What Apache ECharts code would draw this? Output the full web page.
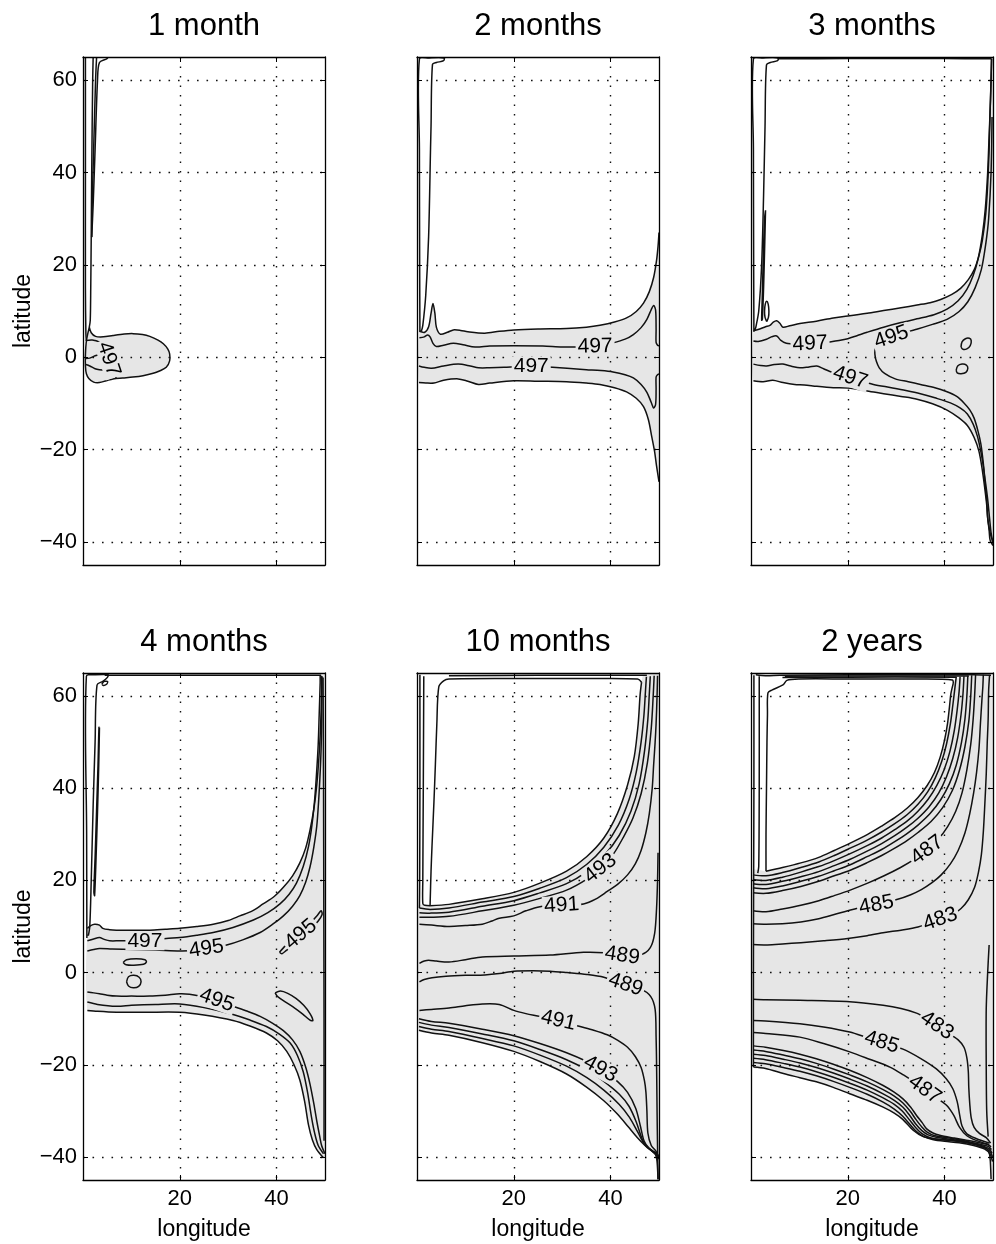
<!DOCTYPE html>
<html>
<head>
<meta charset="utf-8">
<script src="https://cdn.jsdelivr.net/npm/echarts@6/dist/echarts.min.js"></script>
<style>
html,body{margin:0;padding:0;background:#fff;}
#chart{width:996px;height:1244px;}
</style>
</head>
<body>
<div id="chart"></div>
<script>
// ---- panel titles and axes ----
const panelTitles = ['1 month', '2 months', '3 months', '4 months', '10 months', '2 years'];
const lonTicks = [20, 40];
const latTicks = [-40, -20, 0, 20, 40, 60];
const lonRange = [0, 50];
const latRange = [-45, 65];

// ---- 1 month: contour polylines [lon, lat] ----
const m1Bulge = [[1.3,6.5],[1.7,5.3],[2.6,4.5],[4.2,4.4],[6.2,4.7],[8.5,5.0],[10.3,5.1],[12.3,4.9],[13.8,4.5],[15.5,3.7],[16.6,2.9],[17.5,1.8],[17.9,0.7],[17.9,-0.8],[17.2,-2.2],[15.8,-3.0],[14.5,-3.5],[12.4,-4.0],[10.3,-4.3],[8.2,-4.5],[6.2,-4.7],[4.8,-5.1],[3.4,-5.5],[2.2,-5.4],[1.2,-4.6],[0.7,-3.6],[0.5,-1.9],[0.5,0.5],[0.7,3.5],[1.3,6.5]];
const m1West = [[2.1,65],[2.0,60],[1.8,40],[1.7,26],[1.6,15],[1.5,8],[1.3,6.5]];
const m1Edge = [[0.5,65],[0.5,40],[0.5,15],[0.6,5],[0.7,3.5]];
const m1Hook = [[5.2,65],[4.9,64.6],[3.4,63.8],[3.0,60],[2.5,45],[2.1,33],[1.8,26]];
const m1HookIn = [[2.8,64.8],[2.6,60],[2.2,45],[1.9,33],[1.8,26]];
const m1Inner497 = [[0.6,3.6],[1.9,3.7],[3.3,3.3],[4.3,2.2],[5.0,0.5],[5.6,-1.4],[6.3,-3.2],[6.9,-4.7]];
const m1InnerA = [[0.5,-0.3],[1.4,-0.2],[2.5,0.3],[3.5,0.6]];
const m1InnerB = [[0.6,-1.6],[1.4,-1.9],[2.5,-2.5],[3.4,-2.7],[4.8,-2.8]];
const m1Labels = [[5.3,-0.4,'497']];

// ---- 2 months ----
const m2WestLoop = [[0.6,5.5],[0.55,20],[0.5,45],[0.5,64.6],[2.5,64.8],[5.6,64.8],[5.5,64.2],[4.0,63.8],[3.2,63.4],[2.9,50],[2.8,45.4],[2.4,26.1],[1.8,13.3],[1.2,6.9],[0.9,5.6]];
const m2NorthOuter = [[0.5,5.6],[1.6,5.4],[2.4,6.6],[2.9,9.5],[3.3,11.6],[3.7,9.5],[4.0,6.5],[4.8,5.0],[6.3,5.4],[7.5,5.9],[9,5.8],[10.5,5.5],[14,5.2],[17,5.6],[20,5.9],[25,6.1],[30.9,6.2],[35,6.5],[37.8,6.9],[40.8,7.6],[43.3,8.5],[45.3,9.9],[46.8,11.7],[48,14.2],[48.9,17.3],[49.5,21],[49.8,24],[50,27]];
const m2North497 = [[0.5,4.2],[1.5,4.4],[2.2,4.8],[2.7,4.4],[3.3,3.0],[4.0,2.3],[5.5,2.6],[7.5,3.0],[9.5,2.7],[12,2.2],[15,2.4],[20,2.5],[26,2.4],[30,2.2],[33,2.2],[37,2.3],[40.5,3.1],[43,3.9],[44.7,4.9],[46.3,6.4],[47.5,8.2],[48.4,10.3],[48.9,11.2],[49.3,10.2],[49.4,6],[49.4,3.2],[49.7,2.6],[50,2.5]];
const m2South497 = [[0.4,-1.9],[1.5,-2.2],[3,-2.4],[5.5,-1.9],[8.5,-1.5],[11,-1.9],[12.7,-2.3],[15,-2.3],[18,-2.2],[21,-2.0],[23.6,-2.0],[26,-2.1],[28,-2.2],[31,-2.4],[35,-2.7],[38,-2.9],[40.5,-3.2],[43,-3.8],[44.7,-4.5],[46.3,-5.9],[47.5,-7.6],[48.4,-9.8],[48.9,-11],[49.3,-10.2],[49.4,-7],[49.4,-4.3],[49.7,-3.8],[50,-3.6]];
const m2SouthOuter = [[0.4,-5.5],[1.8,-5.6],[3.5,-5.6],[5.5,-5.0],[8.5,-4.7],[10.5,-5.2],[12.7,-5.9],[15,-5.6],[20,-5.1],[25,-5.2],[30.9,-5.3],[35,-5.6],[37.8,-5.9],[40.8,-6.6],[43.3,-7.5],[45.3,-8.9],[46.8,-10.7],[47.8,-13.5],[48.5,-17.2],[49.1,-20.5],[49.5,-23.6],[50,-27]];
const m2Labels = [[36.8,2.3,'497'],[23.6,-2.0,'497']];

// ---- 3 months ----
const m3WestLoop = [[0.6,5.5],[0.55,20],[0.5,45],[0.5,64.6],[2.5,64.8],[5.6,64.8],[5.5,64.2],[4.0,63.8],[3.2,63.3],[2.9,50],[2.6,35],[2.2,20],[1.6,10],[1.0,6.5],[0.8,5.8]];
const m3Sliver = [[3.0,31.8],[2.85,25],[2.6,15],[2.35,8.2],[2.2,8],[2.3,12],[2.55,22],[2.8,30],[3.0,31.8]];
const m3Eddy = [[3.25,7.7],[3.6,8.6],[3.7,10],[3.55,11.5],[3.25,12.1],[2.95,11.5],[2.8,10],[2.9,8.6],[3.25,7.7]];
const m3Top = [[5.5,64.6],[20,64.65],[40,64.65],[49.7,64.6]];
const m3NorthOuter = [[0.5,5.7],[1.8,6.1],[3.0,6.6],[3.9,6.9],[4.6,7.6],[5.3,7.9],[6.0,7.3],[6.6,6.5],[8.0,6.8],[10.1,7.3],[13.5,7.8],[17,8.5],[20,8.9],[24,9.5],[27.4,10.1],[31,10.7],[34.3,11.3],[37,11.8],[39.2,12.5],[41.5,13.6],[43.3,14.9],[44.9,16.8],[46.1,18.9],[47.1,22],[47.8,25.3],[48.5,31],[48.9,37.4],[49.2,45],[49.4,53.4],[49.6,60],[49.7,64.6]];
const m3North497 = [[0.5,3.5],[1.5,3.4],[3.2,3.9],[4.2,4.4],[5.3,4.6],[6.1,3.7],[7.3,3.0],[8.5,2.9],[10,2.8],[12,2.9],[14,3.0],[16.3,3.3],[18.2,3.6],[20,4.0],[22,4.7],[24,5.4],[27.4,6.5],[31,7.5],[34.3,8.3],[37.8,9.2],[40.5,10.4],[42.8,12.2],[44.6,14.7],[45.9,17.7],[46.9,21.2],[47.8,26.5],[48.4,32],[48.9,40],[49.2,48],[49.5,56],[49.7,64.6]];
const m3C495 = [[49.8,52],[49.6,40],[49.1,30],[48.5,24.5],[47.6,19],[46.3,15],[44.8,12],[43,9.9],[40.5,8.2],[37.5,7.1],[34,6.0],[31,5.1],[28.5,4.2],[26.6,3.1],[25.7,1.8],[25.6,0.6],[25.9,-0.9],[26.5,-2.3],[27.6,-3.5],[29.8,-4.7],[32.5,-5.3],[35,-5.9],[38,-6.6],[40.5,-7.5],[42.5,-8.5],[44,-9.9],[45.2,-11.4],[46.1,-13.2],[46.9,-16],[47.5,-18.8],[48.0,-23],[48.3,-26.8],[48.7,-31],[48.9,-34.8],[49.3,-37.5],[49.6,-38.8],[50,-40]];
const m3South497 = [[0.5,-1.5],[2,-1.8],[3.2,-1.9],[4.8,-1.6],[6.6,-1.5],[8.5,-2.0],[10.1,-2.3],[12,-2.1],[13.6,-1.9],[15,-2.5],[16.3,-3.1],[18.5,-3.7],[20.5,-4.4],[22.5,-5.1],[25.3,-5.9],[29,-6.6],[32,-7.2],[35,-7.9],[38,-8.8],[41.2,-9.9],[43.2,-11],[44.7,-12.3],[45.9,-14.5],[46.8,-17.2],[47.5,-20.5],[48,-23.6],[48.5,-27.5],[48.9,-30.8],[49.3,-35],[49.6,-38],[50,-40.4]];
const m3SouthOuter = [[0.5,-5.1],[2.5,-5.3],[4.5,-5.0],[6.6,-5.5],[9,-5.9],[11,-6.0],[13.6,-6.3],[17,-6.6],[20,-6.7],[24,-7.3],[27.4,-7.9],[31,-8.5],[34.3,-9.1],[37.5,-10.1],[40.6,-11.5],[42.9,-13.1],[44.7,-14.8],[46.1,-17.4],[47.1,-20.4],[47.8,-24.5],[48.3,-28.4],[48.7,-32],[48.9,-34.8],[49.2,-37.5],[49.4,-39.6],[50,-40.8]];
const m3EddyA = [[43.4,2.2],[43.6,3.3],[44.3,4.0],[45.1,4.1],[45.5,3.6],[45.3,2.5],[44.6,1.8],[43.8,1.7],[43.4,2.2]];
const m3EddyB = [[42.4,-2.8],[42.7,-1.9],[43.6,-1.5],[44.5,-1.7],[44.8,-2.4],[44.4,-3.3],[43.4,-3.6],[42.6,-3.4],[42.4,-2.8]];
const m3Labels = [[12.2,2.9,'497'],[29.0,4.35,'495'],[20.5,-4.4,'497']];

// ---- 4 months ----
const m4WestLoop = [[0.8,7.5],[0.75,30],[0.7,64.3],[2.5,64.6],[5.2,64.6],[5.0,64.0],[4.1,63.2],[2.9,62.4],[2.5,50],[2.1,36.3],[1.7,20],[1.4,10],[1.1,8]];
const m4TopEddy = [[3.9,62.6],[4.4,63.2],[5.1,63.1],[4.8,62.5],[4.2,62.3],[3.9,62.6]];
const m4Sliver = [[3.4,53.2],[3.25,45],[3.0,35],[2.7,25],[2.4,16.7],[2.25,17.5],[2.5,25],[2.8,35],[3.1,45],[3.3,53.2],[3.4,53.2]];
const m4Top = [[4.5,64.5],[20,64.5],[40,64.5],[49.2,64.5]];
const m4East = [[49.6,64],[49.7,40],[49.75,15],[49.8,-10],[49.8,-36.5]];
const m4NorthOuter = [[0.9,9.6],[1.6,10.2],[2.4,10.5],[3.4,10.3],[4.1,9.6],[5.5,9.3],[6.9,9.2],[10,9.2],[13.8,9.2],[17,9.4],[20,9.6],[23.5,10.0],[26.9,10.5],[30,11.3],[32.4,12.3],[35,13.4],[37.2,14.9],[39.5,16.5],[41.4,18.5],[43.3,21],[44.8,23.8],[46,27],[46.9,30.9],[47.7,35.5],[48.3,40.7],[48.7,46],[49,51.4],[49.2,57],[49.3,62.9],[49.2,64.4]];
const m4North497 = [[0.9,6.9],[2.2,7.3],[3.4,7.6],[4.4,7.2],[5.5,6.9],[7.5,6.9],[10,6.9],[12.8,6.9],[15,7.1],[17.2,7.4],[20,7.6],[23.5,8.1],[26.9,8.7],[31,9.8],[35.2,11.4],[38.2,13],[40.7,14.9],[42.6,17],[44.1,19.4],[45.5,23],[46.6,27.4],[47.3,32],[47.9,38],[48.3,44],[48.6,49.6],[48.8,56],[49.0,62.9],[49.0,64.4]];
const m4North495 = [[0.9,4.7],[2.2,5.0],[3.4,5.2],[6,5.1],[10.3,5.0],[15,4.9],[20,4.7],[23,4.8],[25.5,5.2],[29.7,6.0],[33,7.1],[36.6,8.7],[39.2,10.5],[41.4,12.3],[43.3,14.4],[44.8,16.7],[46,19.6],[46.9,22.9],[47.7,27.3],[48.3,31.8],[48.7,37.5],[49,43.4],[49.2,48.7],[49.3,54],[49.4,64.3]];
const m4LoopNE = [[40.6,4.4],[41.8,5.8],[43.5,7.4],[45.3,9.0],[47.0,10.8],[48.4,12.4],[49.2,13.4],[49.4,12.6],[48.6,11.2],[47.2,9.6],[45.5,7.9],[43.7,6.2],[42.0,4.8],[41.1,4.1],[40.6,4.4]];
const m4LoopSE = [[39.7,-4.4],[40.8,-4.0],[42.3,-4.5],[44,-5.6],[45.6,-7.1],[46.9,-8.9],[47.5,-10.4],[46.9,-10.3],[45.4,-9.0],[43.6,-7.6],[41.7,-6.3],[40.2,-5.2],[39.7,-4.4]];
const m4EddyA = [[8.3,2.2],[9,2.8],[11,3.0],[12.8,2.8],[13.1,2.3],[12.5,1.8],[10.5,1.6],[8.9,1.7],[8.3,2.2]];
const m4EddyB = [[9,-2],[9.4,-0.9],[10.5,-0.6],[11.6,-1.0],[12,-2],[11.5,-3.0],[10.4,-3.3],[9.4,-2.9],[9,-2]];
const m4South495 = [[0.9,-4.2],[2.2,-4.4],[3.4,-4.6],[5,-4.9],[6.9,-5.1],[10,-5.1],[13.8,-5.1],[17,-4.9],[20,-4.6],[22,-4.7],[24.1,-5.1],[27.5,-6.0],[31,-7.3],[34,-8.4],[36.6,-9.5],[39.2,-11],[41.4,-12.6],[43.3,-14.6],[44.8,-17.1],[46,-20.5],[46.9,-24.2],[47.7,-28.5],[48.3,-32.2],[48.9,-35.5],[49.3,-37.5],[50,-39.3]];
const m4SouthMid = [[0.9,-6.4],[3,-6.9],[6.9,-7.3],[10,-7.1],[15,-6.9],[20,-6.8],[25,-7.6],[31,-9.1],[34.5,-10.3],[37.9,-11.7],[40.5,-13.3],[42.8,-15.3],[44.3,-18],[45.5,-21.5],[46.4,-26],[47.2,-31.3],[47.9,-35],[48.6,-37.5],[49.7,-39.3]];
const m4SouthOuter = [[0.9,-8.2],[3,-8.4],[6.9,-8.6],[13,-8.6],[20,-8.6],[25,-9.2],[31,-10.4],[34.5,-11.6],[37.9,-13.1],[40.2,-14.8],[42.1,-17.1],[43.6,-20],[44.8,-23.3],[45.8,-28],[46.6,-33.1],[47.4,-36.3],[48.3,-38.4],[49.7,-40.2]];
const m4Labels = [[12.8,6.9,'497'],[25.5,5.2,'495'],[45.0,8.3,'495'],[27.6,-6.0,'495']];

// ---- 10 months ----
const m10Rim = [[2.7,14.5],[2.9,22],[3.1,27.4],[3.5,37],[3.8,45.2],[4.1,54],[4.5,62],[5.5,63.3],[6.6,63.7],[20,63.8],[35,63.8],[45.6,63.7],[46.4,63.0]];
const m10Edge = [[2.7,14.5],[6.6,14.8],[13.5,16.0],[20,17.4],[25.4,19.4],[30.9,22.0],[35.1,25.2],[38.6,29.2],[41.4,34.5],[43.5,40.7],[44.9,46.9],[45.7,54.0],[46.1,60.3],[46.4,63.0]];
const m10N2 = [[0.5,14.0],[2.7,13.7],[6.6,14.0],[13.5,15.3],[20,16.5],[25.4,18.3],[30.9,20.6],[35.1,23.5],[38.6,27.2],[41.6,32],[43.8,37.5],[45.3,43.5],[46.3,50],[46.9,56],[47.2,61],[47.4,64.2]];
const m10N3 = [[0.5,13.0],[2.7,12.9],[6.6,13.1],[13.5,14.4],[20,15.6],[25.4,17.3],[30.9,19.3],[35.1,21.9],[38.6,25.3],[41.8,29.8],[44.2,35],[45.9,41],[47.0,48],[47.7,55],[48.0,60.5],[48.2,64.3]];
const m10N493 = [[0.5,12.0],[2.7,12.0],[6.6,12.2],[13.5,13.4],[20,14.6],[25.4,16.1],[30.9,17.9],[35.1,20.3],[37.9,22.6],[40.5,25.6],[42.6,29.3],[44.6,33.5],[46.3,38.8],[47.6,45.5],[48.4,53],[48.8,60],[49.0,64.4]];
const m10N491 = [[0.5,10.5],[3,10.3],[6.6,10.0],[10,10.2],[13.5,10.5],[15.5,11.2],[17,11.8],[20,12.3],[22.5,13.4],[25.4,14.3],[29.9,14.6],[34.4,14.9],[37,16],[39.3,17.6],[41.5,19.2],[43.5,21.2],[45.1,23.6],[46.3,26.5],[47.3,30.4],[48,34.5],[48.6,40],[48.9,45.2],[49.2,50],[49.4,54],[49.6,60],[49.7,64.4]];
const m10N489 = [[0.5,2.0],[1.5,2.5],[2.4,2.7],[4,2.5],[6.6,2.3],[10,2.8],[13.5,3.4],[20,3.6],[27.5,3.8],[34.4,4.4],[38.6,4.3],[42.4,3.7],[46.3,3.9],[48.2,5.4],[49.1,8.5],[49.5,14],[49.7,20],[49.8,26]];
const m10S489 = [[0.5,-2.0],[1.5,-1.5],[3.1,-1.1],[6,-0.8],[10,-0.6],[14,-0.5],[17,-0.2],[20,0.3],[24,0.4],[27.5,0.3],[31,0],[35.1,-0.4],[38.6,-1.0],[43.1,-2.6],[46.3,-3.6],[48.3,-5.2],[49.2,-8],[49.4,-14],[49.5,-20],[49.6,-30],[49.7,-38],[49.8,-44.8]];
const m10S491 = [[0.5,-8.2],[3,-8.0],[6.6,-7.7],[10,-7.2],[13.5,-6.8],[17,-6.9],[20,-8.2],[22.5,-8.9],[25.4,-9.5],[29.2,-10.4],[33.7,-11.7],[36.5,-12.5],[39.3,-13.5],[41.5,-14.7],[43.5,-16.2],[45.1,-18.2],[46.3,-20.6],[47,-23.5],[47.3,-26],[47.5,-30],[47.7,-34.8],[48.4,-37.5],[49.4,-38.8],[50,-40.2]];
const m10S493 = [[0.4,-10.0],[3,-10.6],[6.6,-11.0],[13.5,-12.3],[20,-13.7],[25.4,-15.4],[30.9,-17.4],[35.1,-19.3],[37.9,-20.9],[41.4,-23.6],[43.5,-26],[45.2,-29.5],[46.2,-33.5],[46.9,-36.5],[48,-38.2],[49.6,-39.3],[50,-40.5]];
const m10S3 = [[0.4,-10.8],[3,-11.4],[6.6,-11.9],[13.5,-13.3],[20,-14.8],[25.4,-16.7],[30.9,-18.9],[35.1,-21.1],[38.6,-23.6],[41.8,-26.4],[43.8,-29],[45.3,-32.4],[46.3,-35.5],[47.2,-37.6],[48.5,-38.7],[49.7,-39.6]];
const m10S2 = [[0.4,-11.7],[3,-12.3],[6.6,-12.8],[13.5,-14.3],[20,-15.9],[25.4,-17.9],[30.9,-20.3],[35.1,-22.8],[38.6,-25.5],[41.8,-28.6],[43.9,-31.4],[45.5,-34.4],[46.8,-36.9],[48.2,-38.4],[49.3,-39.4],[49.8,-40.2]];
const m10SouthOuter = [[0.4,-12.5],[3,-13.1],[6.6,-13.6],[13.5,-15.2],[20,-17.1],[25.4,-19.3],[30.9,-22],[35.1,-24.9],[38.6,-27.8],[41.5,-30.8],[43.6,-33.4],[45.5,-35.8],[47,-37.4],[48.4,-38.5],[49.3,-39.5],[49.6,-41],[49.8,-44.9]];
const m10Top = [[6.6,64.4],[25,64.5],[47.5,64.5]];
const m10WestA = [[0.6,64.6],[0.6,40],[0.55,20],[0.5,14.0]];
const m10WestB = [[1.4,64.3],[1.3,40],[1.2,20],[1.2,15],[1.6,14.6],[2.7,14.5]];
const m10Labels = [[37.9,22.6,'493'],[29.9,14.6,'491'],[42.4,3.7,'489'],[43.1,-2.6,'489'],[29.2,-10.4,'491'],[37.9,-20.9,'493']];

// ---- 2 years ----
const y2Rim = [[3.1,22],[3.1,30],[3.2,40],[3.3,50],[3.4,56],[3.5,60.7],[4.3,61.3],[6.6,62.4],[7.4,63.4],[10,63.7],[20,63.7],[35,63.7],[41.6,63.5],[41.8,62.8]];
const y2Edge = [[3.1,22],[6.5,22.8],[10.3,23.8],[14,25],[17.2,26.5],[20.5,28.1],[24.1,30],[27,31.8],[29.7,33.6],[32.3,35.7],[34.5,38],[36.4,40.6],[37.9,43.4],[39.1,46.8],[40,50.5],[40.6,54],[41,57.6],[41.3,60.5],[41.8,62.8]];
const y2N2 = [[0.4,21.2],[3.1,21.0],[6.5,21.7],[10.3,22.8],[14,24],[17.2,25.4],[20.5,27],[24.1,28.8],[27,30.5],[29.7,32.3],[32.3,34.3],[34.5,36.5],[36.5,39.2],[38.1,42.3],[39.4,45.8],[40.4,49.6],[41.2,54],[41.7,58],[42.1,61.5],[42.4,64.1]];
const y2N3 = [[0.4,20.2],[3.1,20.0],[6.5,20.7],[10.3,21.8],[14,23],[17.2,24.3],[20.5,25.8],[24.1,27.6],[27,29.2],[29.7,31.0],[32.3,32.9],[34.5,35.0],[36.6,37.6],[38.4,40.6],[39.9,44],[41.1,48],[42,52.5],[42.6,57],[43,61],[43.2,64.2]];
const y2N4 = [[0.4,19.3],[3.1,19.1],[6.5,19.8],[10.3,20.8],[14,21.9],[17.2,23.2],[20.5,24.6],[24.1,26.4],[27,28],[29.7,29.7],[32.3,31.6],[34.5,33.5],[36.8,36],[38.8,39],[40.4,42.5],[41.7,46.5],[42.7,51],[43.4,56],[43.8,60.5],[44.0,64.3]];
const y2N5 = [[0.4,18.4],[3.1,18.2],[6.5,18.8],[10.3,19.8],[14,20.9],[17.2,22.1],[20.5,23.4],[24.1,25.2],[27,26.7],[29.7,28.4],[32.3,30.2],[34.5,32],[37,34.5],[39.2,37.5],[41,41],[42.4,45],[43.5,50],[44.2,55],[44.6,60],[44.8,64.4]];
const y2N6 = [[0.4,17.3],[3.1,17.2],[6.5,17.8],[10.3,18.7],[14,19.8],[17.2,21.0],[20.5,22.2],[24.1,23.9],[27,25.4],[29.7,27],[32.3,28.7],[34.5,30.4],[37.2,32.8],[39.6,35.8],[41.6,39.5],[43.1,44],[44.2,49],[45,54.5],[45.4,60],[45.6,64.5]];
const y2N487 = [[0.4,13.4],[3.1,13.2],[6.5,13.8],[10.3,14.6],[14,15.6],[17.2,16.7],[20.5,17.9],[24.1,19.4],[27.5,21.0],[30.9,22.8],[33.8,24.6],[36.4,26.6],[38.6,28.8],[40.6,31.6],[42.3,35],[43.6,39],[44.6,44],[45.4,49.5],[45.9,55],[46.2,60],[46.4,64.6]];
const y2N485 = [[0.4,10.6],[3.1,10.5],[6.5,10.6],[10.3,11.0],[14,11.7],[17.2,12.6],[21,13.7],[25.9,14.7],[30.3,15.9],[33,16.9],[35.2,18],[37.4,19.5],[39.3,21.2],[41.2,23.6],[42.8,26.5],[44.2,30.3],[45.2,34.5],[46,39],[46.6,43.4],[47.1,48.5],[47.4,54],[47.7,59],[47.9,62],[48.0,64.6]];
const y2N483 = [[0.4,6.1],[3.4,6.0],[6.5,6.2],[10.3,6.5],[15,6.9],[20,7.4],[24,8.0],[27.6,8.7],[31,9.2],[34.5,9.9],[39.1,11.6],[41.5,12.5],[43.4,13.9],[44.9,15.8],[46.2,18.5],[47,21.8],[47.6,25.6],[48,30.5],[48.3,36.3],[48.6,43],[48.8,49.6],[49.0,55],[49.1,61.2],[49.3,64.6]];
const y2S483 = [[0.5,-5.8],[3,-5.9],[10.1,-6.0],[20.4,-6.3],[27.3,-7.1],[31,-7.8],[34.2,-8.8],[36.3,-10.0],[38.4,-11.5],[40.8,-13.2],[42.8,-14.6],[44,-16.2],[44.6,-18.5],[44.9,-21.5],[45.0,-25],[45.2,-28.5],[45.5,-31.5],[46.1,-33.6],[47.2,-34.9],[48.6,-35.8],[49.5,-37]];
const y2S485 = [[0.5,-10.4],[3,-10.5],[10.1,-11.1],[15,-11.8],[20.4,-12.9],[24,-14.1],[27,-15.1],[31.4,-16.6],[35,-18.6],[38.3,-20.9],[40.3,-23],[41.7,-25.2],[42.6,-28],[43.1,-30.8],[43.6,-33.3],[44.6,-35],[46.5,-36],[49.3,-37]];
const y2S487 = [[0.5,-13.0],[3,-13.2],[10.1,-14.0],[15,-15.4],[20.4,-17.2],[24.5,-18.8],[28.7,-20.5],[31.5,-22.2],[33.8,-23.8],[35.9,-25.4],[38.2,-27.1],[40.4,-28.8],[41.9,-31],[43.1,-33.6],[44.6,-35.4],[46.5,-36.4],[49.2,-37.3]];
const y2S1 = [[0.5,-15.9],[3,-16.2],[6.7,-16.9],[10.1,-17.7],[13.5,-18.7],[17,-19.9],[20.4,-21.2],[24,-22.8],[27.3,-24.5],[29.5,-25.9],[31.4,-27.4],[33,-29.2],[34.2,-31],[35.4,-32.6],[36.3,-33.9],[37.6,-34.8],[39,-35.3],[42,-35.9],[45.2,-36.5],[47.5,-37],[48.9,-37.3],[49.6,-37.8]];
const y2S2 = [[0.5,-16.8],[3,-17.1],[6.7,-17.9],[10.1,-18.7],[13.5,-19.7],[17,-20.9],[20.4,-22.2],[24,-23.7],[27.3,-25.4],[29.6,-26.8],[31.4,-28.3],[32.9,-30.1],[34.1,-31.9],[35.3,-33.5],[36.4,-34.6],[38,-35.4],[41,-35.9],[44.5,-36.6],[47.5,-37.3],[49,-37.7],[49.7,-38.4]];
const y2S3 = [[0.5,-17.7],[3,-18.0],[6.7,-18.8],[10.1,-19.6],[13.5,-20.6],[17,-21.8],[20.4,-23.1],[24,-24.6],[27.3,-26.3],[29.6,-27.7],[31.4,-29.2],[32.8,-31],[34.0,-32.8],[35.3,-34.3],[36.6,-35.2],[38.5,-35.8],[41.5,-36.2],[45,-36.8],[47.8,-37.6],[49.2,-38.2],[49.8,-39.2]];
const y2S4 = [[0.5,-18.6],[3,-18.9],[6.7,-19.7],[10.1,-20.5],[13.5,-21.5],[17,-22.7],[20.4,-24.0],[24,-25.5],[27.3,-27.2],[29.6,-28.6],[31.3,-30.1],[32.7,-31.9],[34.0,-33.6],[35.4,-35],[37,-35.8],[39,-36.2],[42,-36.5],[45.5,-37.1],[48,-37.9],[49.3,-38.7],[49.9,-40]];
const y2S5 = [[0.5,-19.5],[3,-19.8],[6.7,-20.6],[10.1,-21.4],[13.5,-22.4],[17,-23.6],[20.4,-24.9],[24,-26.4],[27.3,-28.1],[29.6,-29.6],[31.3,-31.1],[32.8,-32.9],[34.2,-34.5],[35.7,-35.6],[37.5,-36.2],[40,-36.6],[43,-36.9],[46,-37.5],[48.3,-38.3],[49.4,-39.4],[49.9,-41]];
const y2SouthOuter = [[0.5,-20.5],[3,-20.8],[6.7,-21.9],[10.1,-22.8],[13.5,-23.7],[17,-24.9],[20.4,-26.3],[24,-27.7],[27.3,-29.2],[29.6,-30.5],[31.4,-31.9],[33.5,-34.2],[35.6,-35.6],[38,-36.1],[41,-36.4],[44,-36.8],[46.5,-37.3],[48.2,-37.9],[48.9,-38.4],[49.3,-39.5],[49.45,-41],[49.6,-44.8]];
const y2East = [[49.2,6],[48.9,0],[48.6,-8],[48.6,-20],[48.7,-30],[49.0,-35.6]];
const y2TopA = [[1.0,64.6],[3,64.4],[6,64.5],[20,64.6],[46,64.6],[49.6,64.5]];
const y2TopB = [[6.5,64.0],[20,64.1],[42.5,64.1]];
const y2TopC = [[7.0,64.3],[20,64.35],[45,64.35]];
const y2WestA = [[0.6,64.5],[0.6,40],[0.55,22],[0.5,0],[0.5,-20.5]];
const y2WestB = [[1.7,64.3],[1.7,40],[1.6,23],[1.4,21.6]];
const y2Labels = [[36.4,26.6,'487'],[25.9,14.7,'485'],[39.1,11.6,'483'],[38.4,-11.5,'483'],[27.0,-15.1,'485'],[35.9,-25.4,'487']];

// shaded region: northern limiting contour, eastern wall, southern limiting contour
function closeShade(north, east, south) {
  return north.concat(east, south.slice().reverse());
}

const panels = [
  { lines: [m1Bulge, m1West, m1Edge, m1Hook, m1HookIn, m1Inner497, m1InnerA, m1InnerB],
    shade: [m1Bulge], labels: m1Labels },
  { lines: [m2WestLoop, m2NorthOuter, m2North497, m2South497, m2SouthOuter],
    shade: [closeShade(m2NorthOuter, [[50,27],[50,-27]], m2SouthOuter)], labels: m2Labels },
  { lines: [m3WestLoop, m3Sliver, m3Eddy, m3Top, m3NorthOuter, m3North497, m3C495, m3South497, m3SouthOuter, m3EddyA, m3EddyB],
    shade: [closeShade(m3NorthOuter, [[50,64.6],[50,-40.8]], m3SouthOuter)], labels: m3Labels },
  { lines: [m4WestLoop, m4TopEddy, m4Sliver, m4Top, m4East, m4NorthOuter, m4North497, m4North495, m4LoopNE, m4LoopSE, m4EddyA, m4EddyB, m4South495, m4SouthMid, m4SouthOuter],
    shade: [closeShade(m4NorthOuter, [[50,64.4],[50,-40.2]], m4SouthOuter)], labels: m4Labels },
  { lines: [m10Rim, m10Edge, m10N2, m10N3, m10N493, m10N491, m10N489, m10S489, m10S491, m10S493, m10S3, m10S2, m10SouthOuter, m10Top, m10WestA, m10WestB],
    shade: [closeShade([[0.3,14.5]].concat(m10Edge), [[46.8,64.4],[50,64.4],[50,-44.9]], m10SouthOuter)], labels: m10Labels },
  { lines: [y2Rim, y2Edge, y2N2, y2N3, y2N4, y2N5, y2N6, y2N487, y2N485, y2N483, y2S483, y2S485, y2S487, y2S1, y2S2, y2S3, y2S4, y2S5, y2SouthOuter, y2East, y2TopA, y2TopB, y2TopC, y2WestA, y2WestB],
    shade: [closeShade([[0.3,22]].concat(y2Edge), [[42.2,63.7],[50,63.7],[50,-44.8]], y2SouthOuter)], labels: y2Labels }
];

// ---- layout ----
const FONT = '"Liberation Sans", Arial, Helvetica, sans-serif';
const SHADE = '#e6e6e6';
const colLeft = [83, 417, 751];
const rowTop = [57, 673];
const rowHeight = [508, 507];
const plotWidth = 242;
const titleY = [26, 642];

const grids = [], xAxes = [], yAxes = [], series = [], graphics = [];
const dotted = { type: [1.6, 7.9], color: '#111', width: 1.4 };
const frame = { show: true, onZero: false, lineStyle: { color: '#000', width: 1.3 } };
const tickStyle = { color: '#000', width: 1 };

function segDist(p, a, b) {
  const dx = b[0] - a[0], dy = b[1] - a[1];
  const len2 = dx * dx + dy * dy || 1;
  let t = ((p[0] - a[0]) * dx + (p[1] - a[1]) * dy) / len2;
  t = Math.max(0, Math.min(1, t));
  const qx = a[0] + t * dx - p[0], qy = a[1] + t * dy - p[1];
  return qx * qx + qy * qy;
}

panels.forEach((pn, i) => {
  const row = i < 3 ? 0 : 1, col = i % 3;
  grids.push({ left: colLeft[col], top: rowTop[row], width: plotWidth, height: rowHeight[row], show: false });

  xAxes.push({
    gridIndex: i, type: 'value', min: lonRange[0], max: lonRange[1], interval: 20, position: 'bottom', z: 5,
    axisLine: frame,
    axisTick: { show: true, inside: true, length: 5, customValues: lonTicks, lineStyle: tickStyle },
    axisLabel: { show: row === 1, customValues: lonTicks, fontSize: 22, margin: 8, color: '#000', fontFamily: FONT },
    splitLine: { show: true, lineStyle: dotted },
    name: row === 1 ? 'longitude' : '', nameLocation: 'middle', nameGap: 38,
    nameTextStyle: { fontSize: 23, color: '#000', fontFamily: FONT }
  });
  xAxes.push({
    gridIndex: i, type: 'value', min: lonRange[0], max: lonRange[1], interval: 20, position: 'top', z: 5,
    axisLine: frame,
    axisTick: { show: true, inside: true, length: 5, customValues: lonTicks, lineStyle: tickStyle },
    axisLabel: { show: false }, splitLine: { show: false }
  });
  yAxes.push({
    gridIndex: i, type: 'value', min: latRange[0], max: latRange[1], position: 'left', z: 5,
    axisLine: frame,
    axisTick: { show: true, inside: true, length: 5, customValues: latTicks, lineStyle: tickStyle },
    axisLabel: { show: col === 0, customValues: latTicks, fontSize: 22, margin: 6, color: '#000', fontFamily: FONT,
      formatter: v => String(v).replace('-', '\u2212') },
    splitLine: { show: true, lineStyle: dotted },
    name: col === 0 ? 'latitude' : '', nameLocation: 'middle', nameGap: 48,
    nameTextStyle: { fontSize: 23, color: '#000', fontFamily: FONT }
  });
  yAxes.push({
    gridIndex: i, type: 'value', min: latRange[0], max: latRange[1], position: 'right', z: 5,
    axisLine: frame,
    axisTick: { show: true, inside: true, length: 5, customValues: latTicks, lineStyle: tickStyle },
    axisLabel: { show: false }, splitLine: { show: false }
  });

  // shaded area
  series.push({
    type: 'custom', xAxisIndex: 2 * i, yAxisIndex: 2 * i, z: 1, silent: true, clip: true,
    data: pn.shade.map(p => [p[0][0], p[0][1]]),
    renderItem: (params, api) => ({
      type: 'polygon',
      shape: { points: pn.shade[params.dataIndex].map(p => api.coord(p)), smooth: 0.3 },
      style: { fill: SHADE, stroke: null }
    })
  });
  // contour lines
  series.push({
    type: 'custom', xAxisIndex: 2 * i, yAxisIndex: 2 * i, z: 3, silent: true, clip: true,
    data: pn.lines.map(l => [l[0][0], l[0][1]]),
    renderItem: (params, api) => ({
      type: 'polyline',
      shape: { points: pn.lines[params.dataIndex].map(p => api.coord(p)), smooth: 0.3 },
      style: { stroke: '#111', lineWidth: 1.5, fill: null }
    })
  });
  // contour labels, turned along the nearest contour
  series.push({
    type: 'custom', xAxisIndex: 2 * i, yAxisIndex: 2 * i, z: 6, silent: true,
    data: pn.labels.map(l => [l[0], l[1]]),
    renderItem: (params, api) => {
      const lab = pn.labels[params.dataIndex];
      const c = api.coord([lab[0], lab[1]]);
      let best = Infinity, ang = 0;
      pn.lines.forEach(l => {
        for (let k = 0; k < l.length - 1; k++) {
          const a = api.coord(l[k]), b = api.coord(l[k + 1]);
          const d = segDist(c, a, b);
          if (d < best) { best = d; ang = Math.atan2(-(b[1] - a[1]), b[0] - a[0]); }
        }
      });
      if (ang > Math.PI / 2) ang -= Math.PI;
      if (ang < -Math.PI / 2) ang += Math.PI;
      return {
        type: 'text', x: c[0], y: c[1], rotation: ang,
        style: { text: lab[2], fill: '#000', font: '21px ' + FONT, align: 'center', verticalAlign: 'middle',
          backgroundColor: SHADE, padding: [-1, 2] }
      };
    }
  });

  graphics.push({
    type: 'text', x: colLeft[col] + plotWidth / 2, y: titleY[row],
    style: { text: panelTitles[i], font: '31px ' + FONT, fill: '#000', align: 'center', verticalAlign: 'middle',
      textAlign: 'center', textVerticalAlign: 'middle' }
  });
});

const chart = echarts.init(document.getElementById('chart'), null, { renderer: 'canvas' });
chart.setOption({
  animation: false,
  backgroundColor: '#fff',
  textStyle: { fontFamily: FONT },
  grid: grids,
  xAxis: xAxes,
  yAxis: yAxes,
  series: series,
  graphic: graphics
});
</script>
</body>
</html>
